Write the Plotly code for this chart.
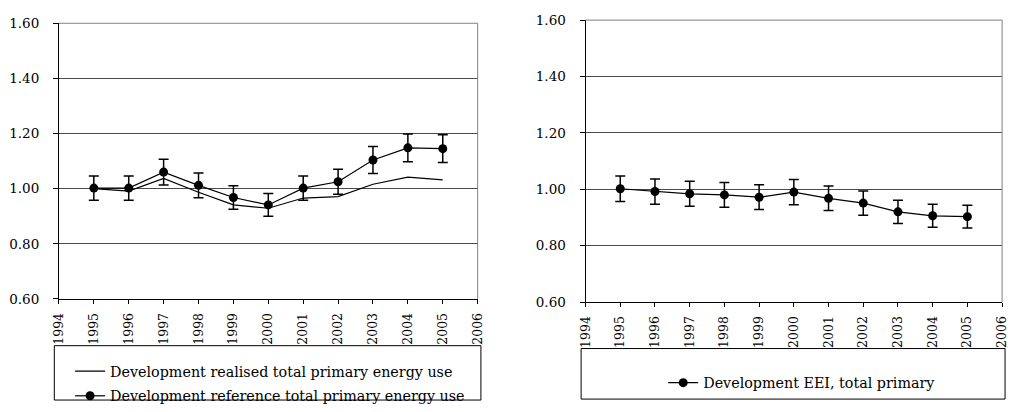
import plotly.graph_objects as go

years = [1995, 1996, 1997, 1998, 1999, 2000, 2001, 2002, 2003, 2004, 2005]
realised = [1.000, 0.991, 1.037, 0.987, 0.941, 0.929, 0.966, 0.971, 1.016, 1.042, 1.032]
reference = [1.002, 1.002, 1.060, 1.012, 0.968, 0.941, 1.002, 1.025, 1.104, 1.148, 1.145]
eei = [1.002, 0.992, 0.984, 0.980, 0.972, 0.990, 0.968, 0.951, 0.920, 0.906, 0.903]
err_pct_left = 4.4
err_pct_right = 4.5

y_ticks = [0.60, 0.80, 1.00, 1.20, 1.40, 1.60]
x_ticks = list(range(1994, 2007))

W, H = 1016, 412
FONT = "DejaVu Serif"

def px(x):
    return x / W

def py(y):
    return 1 - y / H

fig = go.Figure()

fig.add_trace(go.Scatter(
    x=years, y=realised, mode="lines", name="Development realised total primary energy use",
    line=dict(color="black", width=1.2), xaxis="x", yaxis="y", legend="legend", showlegend=True))
fig.add_trace(go.Scatter(
    x=years, y=reference, mode="lines+markers", name="Development reference total primary energy use",
    line=dict(color="black", width=1.2), marker=dict(color="black", size=9),
    error_y=dict(type="percent", value=err_pct_left, color="black", thickness=1.5, width=5),
    xaxis="x", yaxis="y", legend="legend2", showlegend=True))
fig.add_trace(go.Scatter(
    x=years, y=eei, mode="lines+markers", name="Development EEI, total primary",
    line=dict(color="black", width=1.2), marker=dict(color="black", size=9),
    error_y=dict(type="percent", value=err_pct_right, color="black", thickness=1.5, width=5),
    xaxis="x2", yaxis="y2", legend="legend3", showlegend=True))

axis_common_x = dict(
    range=[1994, 2006], tickmode="array", tickvals=x_ticks, ticktext=[str(v) for v in x_ticks],
    tickangle=-90, ticks="outside", ticklen=4, tickcolor="black", showgrid=False,
    showline=True, linecolor="black", linewidth=1, zeroline=False,
    tickfont=dict(family=FONT, size=12.5, color="black"), ticklabelstandoff=4)
axis_common_y = dict(
    range=[0.6, 1.6], tickmode="array", tickvals=y_ticks, tickformat=".2f",
    ticks="outside", ticklen=5, tickcolor="black", showgrid=True, gridcolor="#4a4a4a",
    gridwidth=1, showline=True, linecolor="black", linewidth=1, zeroline=False,
    tickfont=dict(family=FONT, size=13.5, color="black"), ticklabelstandoff=11)

legend_font = dict(family=FONT, size=14.3, color="black")

fig.update_layout(
    width=W, height=H, margin=dict(l=0, r=0, t=0, b=0),
    paper_bgcolor="white", plot_bgcolor="white",
    font=dict(family=FONT, color="black"),
    showlegend=True,
    xaxis=dict(domain=[px(51.7), px(476.7)], anchor="y", **axis_common_x),
    yaxis=dict(domain=[py(305), py(16)], anchor="x", **axis_common_y),
    xaxis2=dict(domain=[px(586.2), px(1009)], anchor="y2", **axis_common_x),
    yaxis2=dict(domain=[py(308.3), py(12.7)], anchor="x2", **axis_common_y),
    legend=dict(x=px(63), y=py(381), xanchor="left", yanchor="middle",
                font=legend_font, bgcolor="rgba(0,0,0,0)", borderwidth=0, visible=True),
    legend2=dict(x=px(63), y=py(407), xanchor="left", yanchor="middle",
                 font=legend_font, bgcolor="rgba(0,0,0,0)", borderwidth=0, visible=True),
    legend3=dict(x=px(665), y=py(393), xanchor="left", yanchor="middle",
                 font=legend_font, bgcolor="rgba(0,0,0,0)", borderwidth=0, visible=True),
    shapes=[
        dict(type="line", xref="x domain", yref="y domain", x0=0, x1=1, y0=1, y1=1,
             line=dict(color="#808080", width=1)),
        dict(type="line", xref="x domain", yref="y domain", x0=1, x1=1, y0=0, y1=1,
             line=dict(color="#808080", width=1)),
        dict(type="line", xref="x2 domain", yref="y2 domain", x0=0, x1=1, y0=1, y1=1,
             line=dict(color="#808080", width=1)),
        dict(type="line", xref="x2 domain", yref="y2 domain", x0=1, x1=1, y0=0, y1=1,
             line=dict(color="#808080", width=1)),
        dict(type="rect", xref="paper", yref="paper", x0=px(47), x1=px(480),
             y0=py(411), y1=py(354), line=dict(color="black", width=1)),
        dict(type="rect", xref="paper", yref="paper", x0=px(581.7), x1=px(1012),
             y0=py(410), y1=py(357), line=dict(color="black", width=1)),
    ],
)

fig.write_html("out.html")
